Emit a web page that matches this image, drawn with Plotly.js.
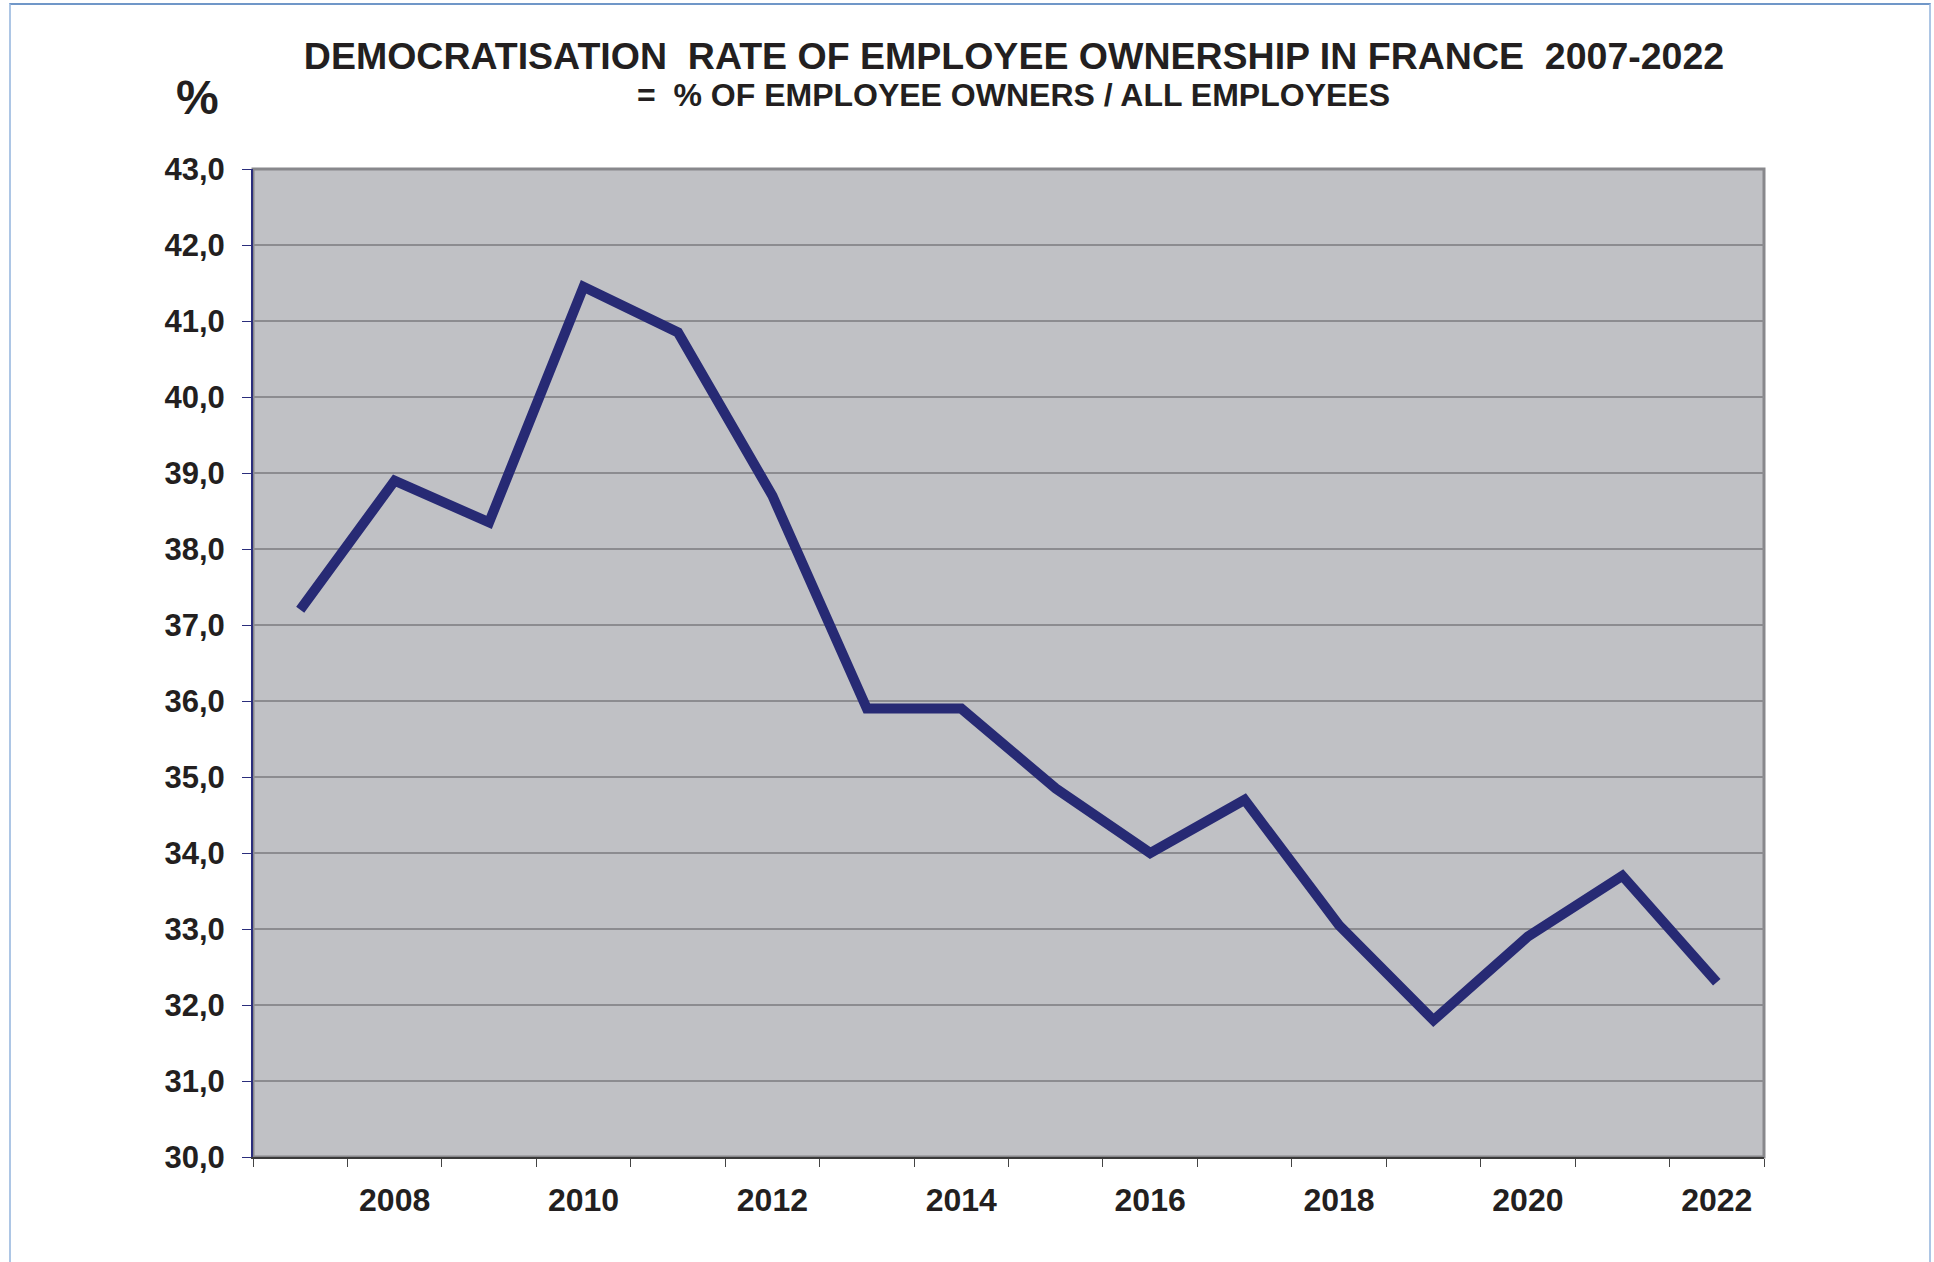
<!DOCTYPE html>
<html>
<head>
<meta charset="utf-8">
<script src="https://cdn.plot.ly/plotly-3.0.1.min.js"></script>
<style>
  html, body { margin: 0; padding: 0; background: #ffffff; }
  #chart { width: 1934px; height: 1262px; position: absolute; left: 0; top: 0; }
  #frame { position: absolute; left: 9px; top: 3px; width: 1918px; height: 1300px;
           border-left: 2px solid #adc6e5; border-top: 2px solid #7097c8; border-right: 2px solid #adc6e5;
           pointer-events: none; }
</style>
</head>
<body>
<div id="chart"></div>
<div id="frame"></div>
<script>
// ---- data ----
const years = ['2007','2008','2009','2010','2011','2012','2013','2014','2015','2016','2017','2018','2019','2020','2021','2022'];
const rates = [37.2, 38.9, 38.35, 41.45, 40.85, 38.7, 35.9, 35.9, 34.85, 34.0, 34.7, 33.05, 31.8, 32.9, 33.7, 32.3];
const xTickLabels = ['', '2008', '', '2010', '', '2012', '', '2014', '', '2016', '', '2018', '', '2020', '', '2022'];
const yTickValues = [30, 31, 32, 33, 34, 35, 36, 37, 38, 39, 40, 41, 42, 43];

const titleText = 'DEMOCRATISATION  RATE OF EMPLOYEE OWNERSHIP IN FRANCE  2007-2022';
const subtitleText = '=  % OF EMPLOYEE OWNERS / ALL EMPLOYEES';
const unitText = '%';

const FONT = 'Liberation Sans, Arial, sans-serif';
const INK = '#231f20';

const trace = {
  type: 'scatter',
  mode: 'lines',
  x: years,
  y: rates,
  line: { color: '#272a74', width: 10 },
  hoverinfo: 'x+y'
};

const layout = {
  width: 1934,
  height: 1262,
  margin: { l: 253, r: 170, t: 169, b: 105 },
  paper_bgcolor: 'rgba(0,0,0,0)',
  plot_bgcolor: '#c0c1c5',
  showlegend: false,
  separators: ', ',
  font: { family: FONT, color: INK },
  title: {
    text: '<b>' + titleText + '</b>',
    font: { family: FONT, size: 37.5, color: INK },
    xref: 'container', yref: 'container',
    x: 0.5243, xanchor: 'center',
    y: 0.956, yanchor: 'middle'
  },
  xaxis: {
    type: 'category',
    range: [-0.5, 15.5],
    tickmode: 'array',
    tickvals: years,
    ticktext: xTickLabels.map(t => t ? '<b>' + t + '</b>' : ''),
    tickson: 'boundaries',
    ticks: 'outside',
    ticklen: 8,
    tickwidth: 1,
    tickcolor: '#444444',
    showgrid: false,
    showline: true,
    linecolor: '#3a3a3a',
    linewidth: 2,
    zeroline: false,
    tickfont: { family: FONT, size: 32, color: INK },
    ticklabelstandoff: 14,
    fixedrange: true
  },
  yaxis: {
    range: [30, 43],
    tickmode: 'array',
    tickvals: yTickValues,
    ticktext: yTickValues.map(v => '<b>' + v.toFixed(1).replace('.', ',') + '</b>'),
    ticks: 'outside',
    ticklen: 9,
    tickwidth: 1,
    tickcolor: '#2b2e7c',
    showgrid: true,
    gridcolor: '#8c8c90',
    gridwidth: 2,
    showline: true,
    linecolor: '#2b2e7c',
    linewidth: 2,
    zeroline: false,
    tickfont: { family: FONT, size: 31, color: INK },
    ticklabelstandoff: 11,
    fixedrange: true
  },
  shapes: [{
    type: 'rect', xref: 'paper', yref: 'paper',
    x0: 0, x1: 1, y0: 0, y1: 1,
    line: { color: '#88888c', width: 3 },
    layer: 'below'
  }],
  annotations: [
    {
      text: '<b>' + subtitleText + '</b>',
      xref: 'paper', yref: 'paper',
      x: 0.5036, y: 1.0749, xanchor: 'center', yanchor: 'middle',
      showarrow: false,
      font: { family: FONT, size: 32, color: INK }
    },
    {
      text: '<b>' + unitText + '</b>',
      xref: 'paper', yref: 'paper',
      x: -0.0364, y: 1.0719, xanchor: 'center', yanchor: 'middle',
      showarrow: false,
      font: { family: FONT, size: 48, color: INK }
    }
  ]
};

Plotly.newPlot('chart', [trace], layout, { displayModeBar: false, responsive: false });
</script>
</body>
</html>
